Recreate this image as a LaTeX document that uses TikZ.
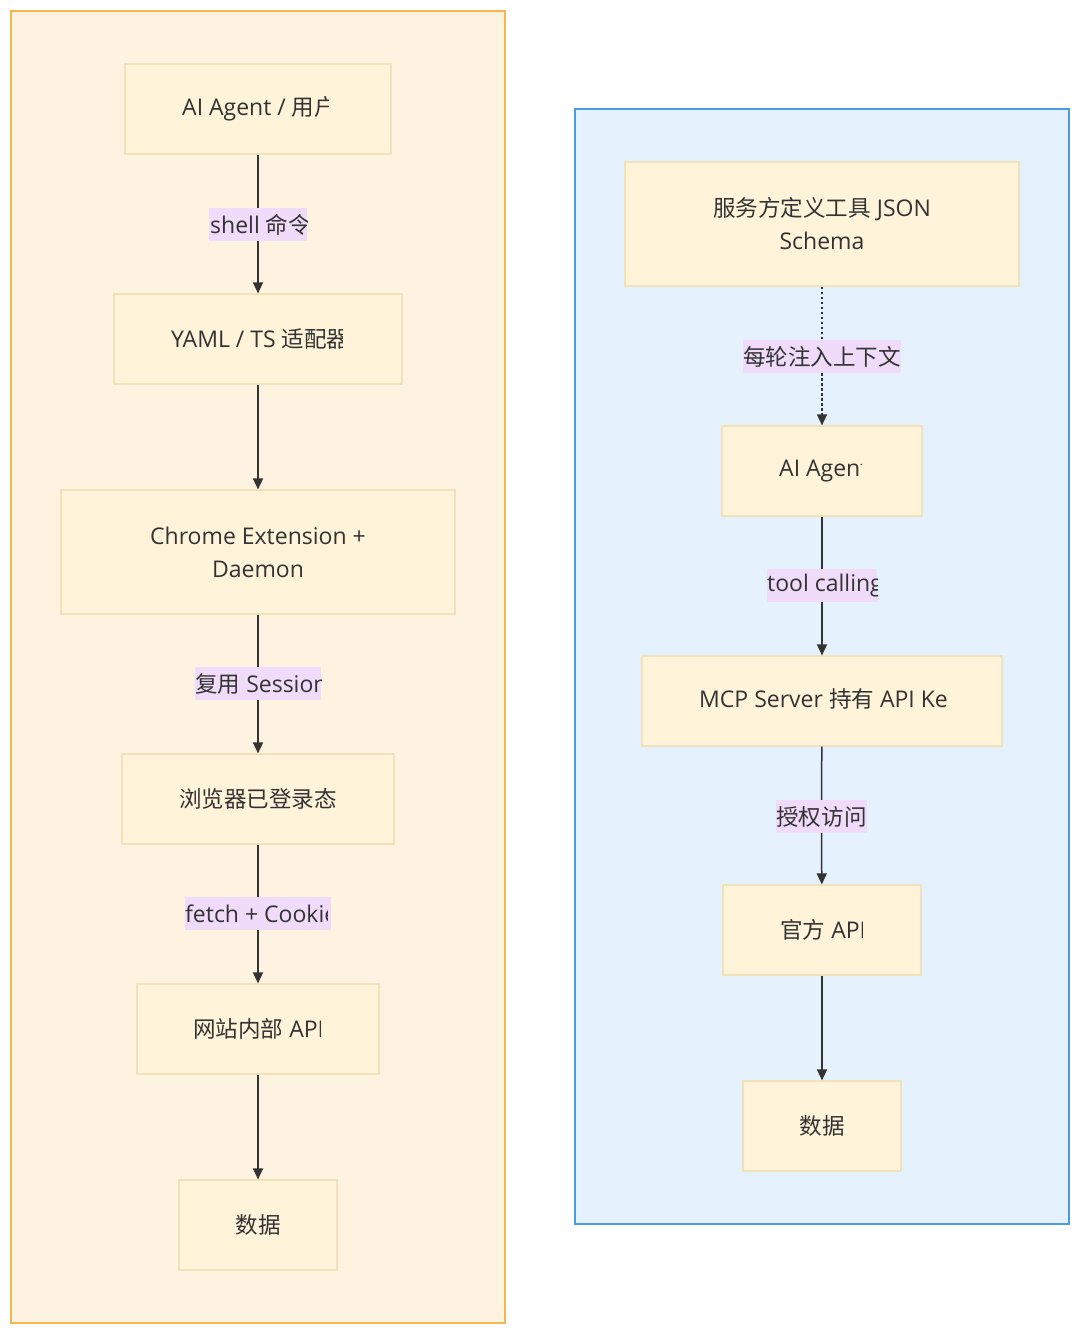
\documentclass[tikz,border=0pt]{standalone}
\usepackage{fontspec}
\setmainfont{Open Sans}
\newfontfamily\cjk[Scale=0.98]{Noto Sans CJK SC}
\usetikzlibrary{arrows.meta}
\definecolor{clusterA}{HTML}{FEF3E1}
\definecolor{clusterAline}{HTML}{F5B84E}
\definecolor{clusterB}{HTML}{E5F2FD}
\definecolor{clusterBline}{HTML}{4C9BE6}
\definecolor{nodefill}{HTML}{FFF4DA}
\definecolor{nodeline}{HTML}{F1E2BA}
\definecolor{lblfill}{HTML}{F0DCFA}
\definecolor{txt}{HTML}{333333}
\definecolor{edge}{HTML}{333333}
\tikzset{
  box/.style={draw=nodeline, fill=nodefill, line width=1.2pt, inner sep=0pt, minimum height=90pt},
  lbl/.style={fill=lblfill, inner sep=0pt, minimum height=33pt},
  tx/.style={text=txt, font=\fontsize{23}{33}\selectfont, inner sep=0pt},
  flow/.style={draw=edge, line width=1.5pt},
  arr/.style={flow, -{Triangle[width=10pt,length=11pt]}},
  dots/.style={arr, dash pattern=on 2.5pt off 2.5pt}
}
\begin{document}
\begin{tikzpicture}[x=1pt,y=-1pt]
\useasboundingbox (0,0) rectangle (1080,1334);
% clusters
\draw[fill=clusterA, draw=clusterAline, line width=2pt] (11,11) rectangle (505,1323);
\draw[fill=clusterB, draw=clusterBline, line width=2pt] (575,109) rectangle (1069,1224);

% left nodes
\node[box, minimum width=266pt] (L1) at (258,109) {};
\begin{scope}\clip (182,80) rectangle (328,140);
\node[tx, anchor=west] (L1t) at (182,109) {AI Agent / {\cjk 用户}};
\end{scope}
\node[box, minimum width=288pt] (L2) at (258,339) {};
\begin{scope}\clip (171,310) rectangle (342,370);
\node[tx, anchor=west] (L2t) at (171,339) {YAML / TS {\cjk 适配器}};
\end{scope}
\node[box, minimum width=394pt, minimum height=124pt] (L3) at (258,552) {};
\node[tx, align=center] (L3t) at (258,552) {Chrome Extension +\\Daemon};
\node[box, minimum width=272pt] (L4) at (258,799) {};
\node[tx] (L4t) at (258,799) {\cjk 浏览器已登录态};
\node[box, minimum width=242pt] (L5) at (258,1029) {};
\begin{scope}\clip (193,1000) rectangle (320,1060);
\node[tx, anchor=west] (L5t) at (193,1029) {{\cjk 网站内部} API};
\end{scope}
\node[box, minimum width=158pt] (L6) at (258,1225) {};
\node[tx] (L6t) at (258,1225) {\cjk 数据};

% left labels
\node[lbl, minimum width=98pt] (e1) at (258,224.5) {};
\begin{scope}\clip (209,208) rectangle (307,241);
\node[tx, anchor=west] (e1t) at (210,224.5) {shell {\cjk 命令}};
\end{scope}
\node[lbl, minimum width=126pt] (e3) at (258,683.5) {};
\begin{scope}\clip (195,667) rectangle (321,700);
\node[tx, anchor=west] (e3t) at (195,683.5) {{\cjk 复用} Session};
\end{scope}
\node[lbl, minimum width=146pt] (e4) at (258,913.5) {};
\begin{scope}\clip (185,897) rectangle (327,930);
\node[tx, anchor=west] (e4t) at (185,913.5) {fetch + Cookie};
\end{scope}

% left edges
\draw[flow] (L1) -- (e1);
\draw[arr] (e1) -- (L2);
\draw[arr] (L2) -- (L3);
\draw[flow] (L3) -- (e3);
\draw[arr] (e3) -- (L4);
\draw[flow] (L4) -- (e4);
\draw[arr] (e4) -- (L5);
\draw[arr] (L5) -- (L6);

% right nodes
\node[box, minimum width=394pt, minimum height=124pt] (R1) at (822,224) {};
\node[tx, align=center] (R1t) at (822,224) {{\cjk 服务方定义工具} JSON\\Schema};
\node[box, minimum width=200pt] (R2) at (822,471) {};
\begin{scope}\clip (779,440) rectangle (861,500);
\node[tx, anchor=west] (R2t) at (779,471) {AI Agent};
\end{scope}
\node[box, minimum width=360pt] (R3) at (822,701) {};
\begin{scope}\clip (699,670) rectangle (946,730);
\node[tx, anchor=west] (R3t) at (699,701) {MCP Server {\cjk 持有} API Key};
\end{scope}
\node[box, minimum width=198pt] (R4) at (822,930) {};
\begin{scope}\clip (780,900) rectangle (862,960);
\node[tx, anchor=west] (R4t) at (780,930) {{\cjk 官方} API};
\end{scope}
\node[box, minimum width=158pt] (R5) at (822,1126) {};
\node[tx] (R5t) at (822,1126) {\cjk 数据};

% right labels
\node[lbl, minimum width=158pt] (f1) at (822,356.5) {};
\node[tx] (f1t) at (822,356.5) {\cjk 每轮注入上下文};
\node[lbl, minimum width=110pt] (f2) at (822,585.5) {};
\begin{scope}\clip (767,569) rectangle (877,602);
\node[tx, anchor=west] (f2t) at (767,585.5) {tool calling};
\end{scope}
\node[lbl, minimum width=91pt] (f3) at (821.5,816.5) {};
\node[tx] (f3t) at (821.5,816.5) {\cjk 授权访问};

% right edges
\draw[flow, dash pattern=on 2.5pt off 2.5pt] (R1) -- (f1);
\draw[dots] (f1) -- (R2);
\draw[flow] (R2) -- (f2);
\draw[arr] (f2) -- (R3);
\draw[flow] (R3) -- (f3);
\draw[arr] (f3) -- (R4);
\draw[arr] (R4) -- (R5);
\end{tikzpicture}
\end{document}
